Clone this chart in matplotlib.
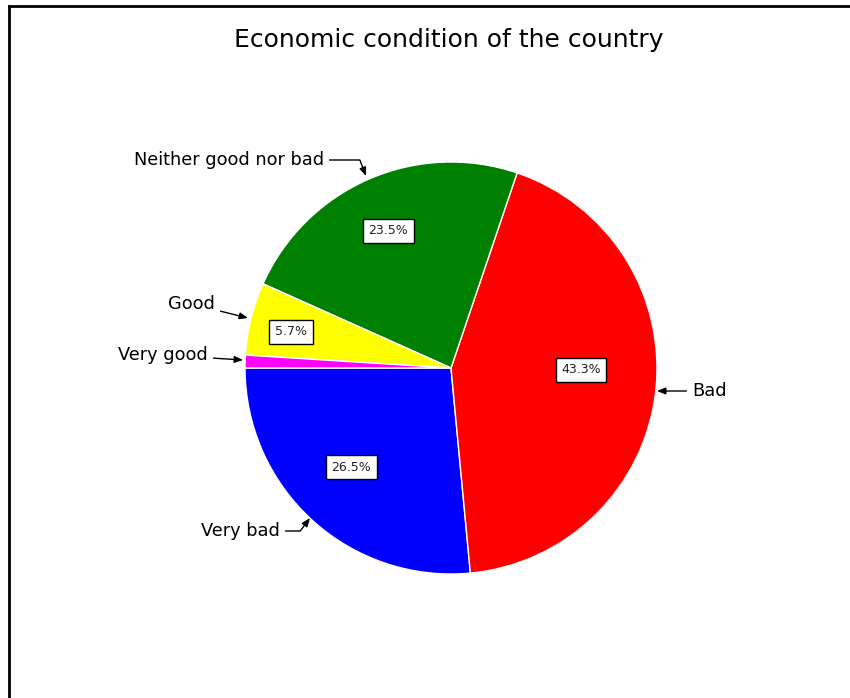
import numpy as np
import matplotlib.pyplot as plt
from matplotlib.lines import Line2D

plt.rcParams['font.family'] = ['DejaVu Sans']

# shares in percent, counter-clockwise from the 9 o'clock position
labels = ['Very bad', 'Bad', 'Neither good nor bad', 'Good', 'Very good']
shares = [26.5, 43.3, 23.5, 5.7, 1.0]
colors = ['#0000ff', '#ff0000', '#008000', '#ffff00', '#ff00ff']

W, H = 850, 698
cx, cy, R = 451, 368, 206   # pie centre and radius in pixels

fig = plt.figure(figsize=(W / 100, H / 100), dpi=100)
ax = fig.add_axes([(cx - R) / W, 1 - (cy + R) / H, 2 * R / W, 2 * R / H])

wedges, _ = ax.pie(shares, colors=colors, startangle=180, counterclock=True,
                   radius=1, wedgeprops=dict(edgecolor='white', linewidth=1))
ax.set_xlim(-1, 1)
ax.set_ylim(-1, 1)
ax.set_aspect('equal')
ax.axis('off')

# boxed percentages: radius and angle shift (deg) per slice
pct_r = [0.683, 0.631, 0.732, 0.796, None]
pct_da = [-2.9, 5.8, 1.1, 1.1, 0]
for w, s, r, da in zip(wedges, shares, pct_r, pct_da):
    if r is None:
        continue
    a = np.deg2rad((w.theta1 + w.theta2) / 2 + da)
    ax.text(r * np.cos(a), r * np.sin(a), f'{s:.1f}%', ha='center', va='center',
            fontsize=9, color='#222222',
            bbox=dict(boxstyle='square,pad=0.45', fc='white', ec='black', lw=1))


def px(x, y):
    return ((x - cx) / R, (cy - y) / R)


arrow = dict(arrowstyle='-|>,head_length=0.5,head_width=0.2', color='black',
             lw=1, mutation_scale=10, shrinkA=2, shrinkB=0)
fs = 12.8

# callout labels: text anchor, arrow tip
ax.annotate(labels[1], xy=px(657, 391), xytext=px(692, 391),
            ha='left', va='center', fontsize=fs, arrowprops=arrow,
            annotation_clip=False)
ax.annotate(labels[0], xy=px(310, 518), xytext=px(280, 531),
            ha='right', va='center', fontsize=fs, annotation_clip=False,
            arrowprops=dict(arrow, connectionstyle='angle,angleA=0,angleB=53,rad=0'))
ax.annotate(labels[2], xy=px(366, 176), xytext=px(324, 160),
            ha='right', va='center', fontsize=fs, annotation_clip=False,
            arrowprops=dict(arrow, connectionstyle='angle,angleA=0,angleB=111,rad=0'))
ax.annotate(labels[3], xy=px(248, 318), xytext=px(215, 304),
            ha='right', va='center', fontsize=fs, arrowprops=arrow,
            annotation_clip=False)
ax.annotate(labels[4], xy=px(243, 360), xytext=px(208, 355),
            ha='right', va='center', fontsize=fs, arrowprops=arrow,
            annotation_clip=False)

fig.text(449 / W, 1 - 40 / H, 'Economic condition of the country',
         ha='center', va='center', fontsize=18)

# frame lines on the top and left edges
fig.add_artist(Line2D([8.5 / W, 1], [1 - 5.5 / H, 1 - 5.5 / H], color='black', lw=2))
fig.add_artist(Line2D([8.5 / W, 8.5 / W], [0, 1 - 5.5 / H], color='black', lw=2))

fig.savefig('out.png', dpi=100)
